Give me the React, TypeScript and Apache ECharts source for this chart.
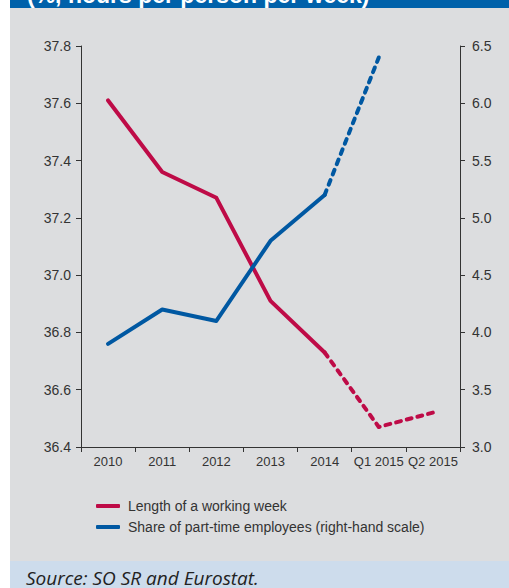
import React, { useEffect, useRef } from "react";
import * as echarts from "echarts";

const categories = ["2010", "2011", "2012", "2013", "2014", "Q1 2015", "Q2 2015"];
const workingWeek = [37.61, 37.36, 37.27, 36.91, 36.73, 36.47, 36.52];
const partTimeShare = [3.9, 4.2, 4.1, 4.8, 5.2, 6.4, null];
const lastSolidIndex = 4;
const leftTicks = { min: 36.4, max: 37.8, interval: 0.2 };
const rightTicks = { min: 3.0, max: 6.5, interval: 0.5 };
const legendNames = ["Length of a working week", "Share of part-time employees (right-hand scale)"];
const titleText = "(%, hours per person per week)";
const sourceText = "Source: SO SR and Eurostat.";

const RED = "#BE0B47";
const BLUE = "#0058A2";
const FONT = "'Liberation Sans', Arial, sans-serif";

const solid = (arr: (number | null)[]) => arr.map((v, i) => (i <= lastSolidIndex ? v : null));
const dashed = (arr: (number | null)[]) => arr.map((v, i) => (i >= lastSolidIndex ? v : null));

export default function App() {
  const ref = useRef<HTMLDivElement>(null);
  useEffect(() => {
    document.body.style.margin = "0";
    const chart = echarts.init(ref.current!, null, { renderer: "svg" });
    const lineBase = { type: "line", showSymbol: false, symbol: "none", connectNulls: false, z: 3 };
    chart.setOption({
      animation: false,
      backgroundColor: "#ffffff",
      textStyle: { fontFamily: FONT },
      graphic: [
        { type: "rect", shape: { x: 10, y: 0, width: 499, height: 8 }, style: { fill: "#0061AA" }, z: -10 },
        { type: "rect", shape: { x: 10, y: 8, width: 499, height: 553 }, style: { fill: "#DCDDDF" }, z: -10 },
        { type: "rect", shape: { x: 10, y: 561, width: 499, height: 27 }, style: { fill: "#CDDCEC" }, z: -10 },
        {
          type: "text",
          x: 27,
          y: 6,
          z: -5,
          style: {
            text: titleText,
            fill: "#ffffff",
            font: "bold 23px " + FONT,
            verticalAlign: "bottom",
          },
        },
        {
          type: "text",
          x: 26,
          y: 587,
          z: -5,
          style: {
            text: sourceText,
            fill: "#222222",
            font: "italic 19px 'Open Sans', " + FONT,
            verticalAlign: "bottom",
          },
        },
      ],
      grid: { left: 81, right: 49, top: 46, bottom: 141, containLabel: false },
      legend: {
        data: legendNames,
        orient: "vertical",
        left: 91,
        top: 494,
        itemWidth: 24,
        itemHeight: 4,
        itemGap: 7,
        icon: "roundRect",
        textStyle: { fontSize: 14, color: "#333333", fontFamily: FONT, padding: [0, 0, 0, 3] },
      },
      xAxis: {
        type: "category",
        data: categories,
        boundaryGap: true,
        axisLine: { lineStyle: { color: "#333333", width: 1 } },
        axisTick: { show: true, inside: false, length: 5, alignWithLabel: false, lineStyle: { color: "#333333" } },
        axisLabel: { color: "#333333", fontSize: 13, margin: 8, interval: 0 },
        splitLine: { show: false },
      },
      yAxis: [
        {
          type: "value",
          position: "left",
          min: leftTicks.min,
          max: leftTicks.max,
          interval: leftTicks.interval,
          axisLine: { show: true, lineStyle: { color: "#333333", width: 1 } },
          axisTick: { show: true, inside: false, length: 5, lineStyle: { color: "#333333" } },
          axisLabel: { color: "#333333", fontSize: 14, margin: 10, formatter: (v: number) => v.toFixed(1) },
          splitLine: { show: false },
        },
        {
          type: "value",
          position: "right",
          min: rightTicks.min,
          max: rightTicks.max,
          interval: rightTicks.interval,
          axisLine: { show: true, lineStyle: { color: "#333333", width: 1 } },
          axisTick: { show: true, inside: false, length: 5, lineStyle: { color: "#333333" } },
          axisLabel: { color: "#333333", fontSize: 14, margin: 12, formatter: (v: number) => v.toFixed(1) },
          splitLine: { show: false },
        },
      ],
      series: [
        {
          ...lineBase,
          name: legendNames[0],
          yAxisIndex: 0,
          data: solid(workingWeek),
          itemStyle: { color: RED },
          lineStyle: { color: RED, width: 4, cap: "round", join: "round" },
        },
        {
          ...lineBase,
          name: legendNames[0] + " (dashed)",
          yAxisIndex: 0,
          data: dashed(workingWeek),
          itemStyle: { color: RED },
          lineStyle: { color: RED, width: 4, type: [5, 6], cap: "round", join: "round" },
        },
        {
          ...lineBase,
          name: legendNames[1],
          yAxisIndex: 1,
          data: solid(partTimeShare),
          itemStyle: { color: BLUE },
          lineStyle: { color: BLUE, width: 4, cap: "round", join: "round" },
        },
        {
          ...lineBase,
          name: legendNames[1] + " (dashed)",
          yAxisIndex: 1,
          data: dashed(partTimeShare),
          itemStyle: { color: BLUE },
          lineStyle: { color: BLUE, width: 4, type: [5, 6], cap: "round", join: "round" },
        },
      ],
    });
    return () => chart.dispose();
  }, []);
  return <div ref={ref} style={{ position: "absolute", left: 0, top: 0, width: 509, height: 588 }} />;
}
